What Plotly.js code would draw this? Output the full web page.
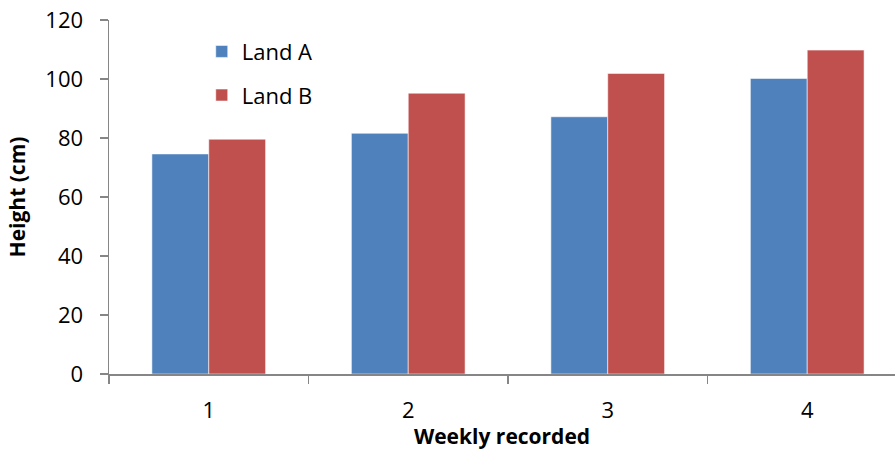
<!DOCTYPE html>
<html>
<head>
<meta charset="utf-8">
<script src="https://cdn.plot.ly/plotly-3.0.1.min.js"></script>
<style>html,body{margin:0;padding:0;background:#fff;}#chart{width:895px;height:450px;}</style>
</head>
<body>
<div id="chart"></div>
<script>
var weeks = ['1', '2', '3', '4'];
var landA = [74.6, 81.6, 87.2, 100.2];
var landB = [79.6, 95.2, 101.9, 109.8];
var yTicks = [0, 20, 40, 60, 80, 100, 120];

var FONT = '"Open Sans", "Liberation Sans", sans-serif';

var traces = [
  {type: 'bar', name: 'Land A', x: weeks, y: landA, legendgroup: 'a',
   marker: {color: '#4F81BD', line: {color: 'rgba(255,255,255,0.55)', width: 1}}},
  {type: 'bar', name: 'Land B', x: weeks, y: landB, legendgroup: 'b',
   marker: {color: '#C0504D', line: {color: 'rgba(255,255,255,0.55)', width: 1}}}
];

var layout = {
  width: 895, height: 450,
  margin: {l: 109, r: 0, t: 20, b: 76, pad: 0},
  paper_bgcolor: '#fff', plot_bgcolor: '#fff',
  barmode: 'group', bargap: 0.43, bargroupgap: 0,
  font: {family: FONT, size: 22, color: '#000'},
  showlegend: true,
  legend: {x: 0.118, y: 0.97, xanchor: 'left', yanchor: 'top',
           font: {family: FONT, size: 22, color: '#000'},
           tracegroupgap: 12, bgcolor: 'rgba(0,0,0,0)'},
  xaxis: {
    type: 'category', range: [-0.5, 3.44],
    showline: true, linecolor: '#868686', linewidth: 1.5,
    ticks: 'outside', tickson: 'boundaries', ticklen: 8, tickcolor: '#868686', tickwidth: 1.5,
    showgrid: false, zeroline: false, ticklabelstandoff: 16,
    tickfont: {family: FONT, size: 22, color: '#000'},
    title: {text: '<b>Weekly recorded</b>', font: {family: FONT, size: 21, color: '#000'}, standoff: 2}
  },
  yaxis: {
    range: [0, 120], tickvals: yTicks, ticktext: yTicks.map(String),
    showline: true, linecolor: '#868686', linewidth: 1.5,
    ticks: 'outside', ticklen: 8, tickcolor: '#868686', tickwidth: 1.5,
    showgrid: false, zeroline: false, ticklabelstandoff: 12,
    tickfont: {family: FONT, size: 22, color: '#000'},
    title: {text: '<b>Height (cm)</b>', font: {family: FONT, size: 21, color: '#000'}, standoff: 14}
  }
};

Plotly.newPlot('chart', traces, layout, {displayModeBar: false, staticPlot: true});
</script>
</body>
</html>
